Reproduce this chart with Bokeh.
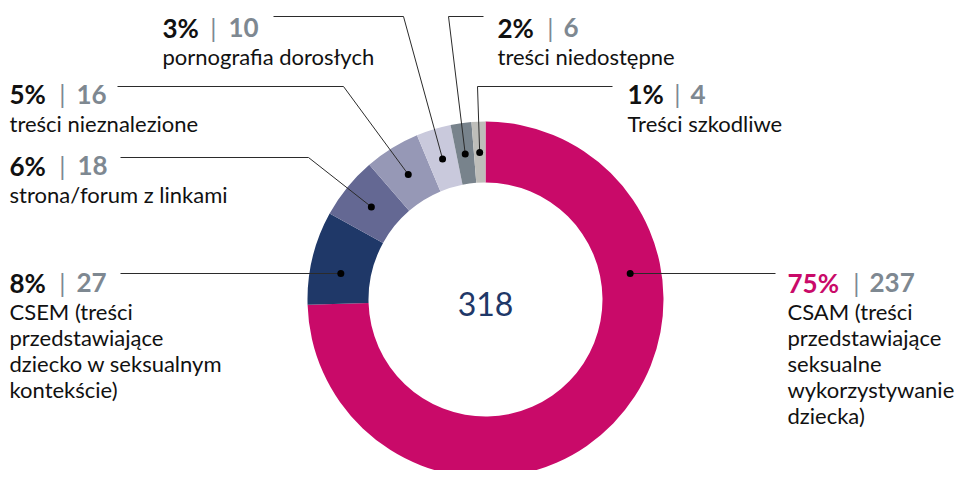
import math
from bokeh.plotting import figure
from bokeh.models import ColumnDataSource, Range1d
from bokeh.embed import file_html
from bokeh.resources import INLINE
from bokeh.core.properties import value

# ---------------- data ----------------
values = [237, 27, 18, 16, 10, 6, 4]
desc_lines = [
    ["CSAM (treści", "przedstawiające", "seksualne", "wykorzystywanie", "dziecka)"],
    ["CSEM (treści", "przedstawiające", "dziecko w seksualnym", "kontekście)"],
    ["strona/forum z linkami"],
    ["treści nieznalezione"],
    ["pornografia dorosłych"],
    ["treści niedostępne"],
    ["Treści szkodliwe"],
]
colors = ["#C90A69", "#1F3868", "#646893", "#9698B6", "#C9C9DC", "#78838C", "#BEBEBA"]
pct_colors = ["#C90A69", "#111111", "#111111", "#111111", "#111111", "#111111", "#111111"]

# ---------------- layout (page pixels) ----------------
W, H = 964, 470
OX, OY = 0, 8              # where the canvas sits on the page
CX, CY = 485, 307          # donut centre in page px
R_OUT, R_IN, R_DOT = 178, 117, 147

hdr_x = [787, 9, 9, 9, 162, 497, 627]
bar_x = [856, 62, 62, 62, 213, 550, 677]
val_x = [869, 76, 77, 76, 228, 563, 690]
hdr_base = [290, 290, 173, 101.7, 35, 35, 101.7]
line_y = [281, 281, 165, 94, 24, 24, 94]
dot_on_line = [True, True, False, False, False, False, False]
elbow_x = [None, None, 308, 343, 403, 448, 477]
end_x = [775, 120, 120, 117, 273, 483, 612]
DESC_GAP, DESC_LH = 29, 26

FONT = "Lato"
GRAY = "#7E8891"


def X(px):
    return px - CX


def Y(py):
    return CY - py


total = sum(values)

# wedges
starts, ends, mids = [], [], []
cum = 0
for v in values:
    a0 = math.pi / 2 - 2 * math.pi * cum / total
    cum += v
    a1 = math.pi / 2 - 2 * math.pi * cum / total
    starts.append(a0)
    ends.append(a1)
    mids.append((a0 + a1) / 2)

wedge_src = ColumnDataSource(dict(start=starts, end=ends, color=colors))

p = figure(width=W, height=H, output_backend="svg", toolbar_location=None,
           x_range=Range1d(X(OX), X(OX + W)), y_range=Range1d(Y(OY + H), Y(OY)),
           min_border=0, outline_line_color=None, background_fill_color="white",
           border_fill_color="white")
p.axis.visible = False
p.grid.visible = False

p.annular_wedge(x=0, y=0, inner_radius=R_IN, outer_radius=R_OUT,
                start_angle="start", end_angle="end", direction="clock",
                fill_color="color", line_color=None, source=wedge_src)

# dots & leader lines
dot_x, dot_y, lx, ly = [], [], [], []
for i, m in enumerate(mids):
    if dot_on_line[i]:
        dy = Y(line_y[i])
        dx = math.copysign(math.sqrt(R_DOT ** 2 - dy ** 2), math.cos(m))
    else:
        dx, dy = R_DOT * math.cos(m), R_DOT * math.sin(m)
    dot_x.append(dx)
    dot_y.append(dy)
    xs, ys = [dx], [dy]
    if elbow_x[i] is not None:
        xs.append(X(elbow_x[i]))
        ys.append(Y(line_y[i]))
    xs.append(X(end_x[i]))
    ys.append(Y(line_y[i]))
    lx.append(xs)
    ly.append(ys)

p.multi_line(xs=lx, ys=ly, line_color="#2B2B2B", line_width=1)
p.scatter(x=dot_x, y=dot_y, size=7, marker="circle", fill_color="#000000", line_color=None)

# header texts
pct_txt = [f"{round(v / total * 100)}%" for v in values]
val_txt = [str(v) for v in values]
hdr_src = ColumnDataSource(dict(
    px=[X(v) for v in hdr_x], bx=[X(v) for v in bar_x], vx=[X(v) for v in val_x],
    y=[Y(v) for v in hdr_base], pct=pct_txt, val=val_txt, pc=pct_colors,
    bar=["|"] * len(values)))
p.text(x="px", y="y", text="pct", source=hdr_src, text_color="pc",
       text_font=value(FONT), text_font_style="bold", text_font_size="26px",
       text_align="left", text_baseline="alphabetic")
p.text(x="bx", y="y", text="bar", source=hdr_src, text_color=GRAY,
       text_font=value(FONT), text_font_size="25px",
       text_align="center", text_baseline="alphabetic")
p.text(x="vx", y="y", text="val", source=hdr_src, text_color=GRAY,
       text_font=value(FONT), text_font_style="bold", text_font_size="26px",
       text_align="left", text_baseline="alphabetic")

# description lines
dx_, dy_, dt_ = [], [], []
for i, lines in enumerate(desc_lines):
    for k, t in enumerate(lines):
        dx_.append(X(hdr_x[i]))
        dy_.append(Y(hdr_base[i] + DESC_GAP + k * DESC_LH))
        dt_.append(t)
p.text(x=dx_, y=dy_, text=dt_, text_color="#111111", text_font=value(FONT),
       text_font_size="22px", text_align="left", text_baseline="alphabetic")

# total in the centre
p.text(x=[0], y=[Y(311.5)], text=[str(total)], text_color="#1F3868",
       text_font=value(FONT), text_font_size="32px", text_align="center",
       text_baseline="alphabetic")

open("out.html", "w").write(file_html(p, INLINE))
